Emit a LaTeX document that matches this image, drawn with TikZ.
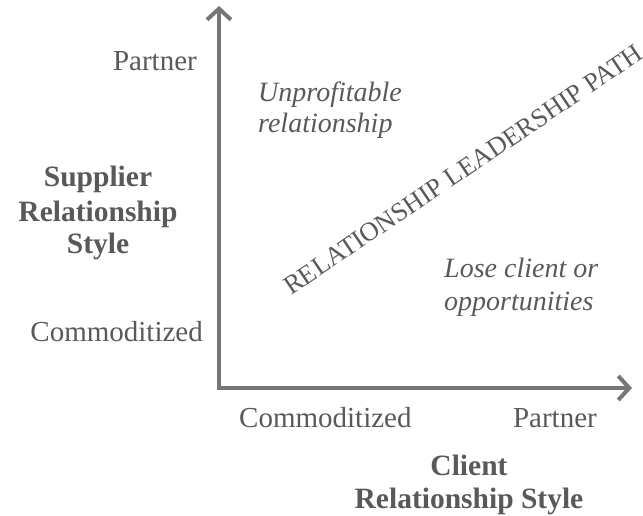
\documentclass[tikz,border=0pt]{standalone}
\usepackage{fontspec}
\setmainfont{Liberation Serif}
\usetikzlibrary{arrows.meta}
\definecolor{labelgray}{RGB}{89,89,92}
\definecolor{axisgray}{RGB}{118,118,121}
\tikzset{
  axis/.style={draw=axisgray, line width=4bp, line join=miter,
    {Straight Barb[length=11bp,width=24bp]}-{Straight Barb[length=11bp,width=24bp]}},
  lbl/.style={text=labelgray, inner sep=0pt, font=\fontsize{29bp}{33bp}\selectfont},
  note/.style={text=labelgray, inner sep=0pt, font=\fontsize{28bp}{33bp}\selectfont\itshape},
  title/.style={text=labelgray, inner sep=0pt, font=\fontsize{29.5bp}{33bp}\selectfont\bfseries},
  path label/.style={text=labelgray, inner sep=0pt, font=\fontsize{26.5bp}{30bp}\selectfont}
}
\begin{document}
\begin{tikzpicture}[x=1bp,y=-1bp]
  \useasboundingbox (0,0) rectangle (643,516);

  % axes
  \coordinate (ytip) at (219,6);
  \coordinate (origin) at (219,388);
  \coordinate (xtip) at (632,388);
  \draw[axis] (ytip) -- (origin) -- (xtip);

  % vertical axis
  \node[lbl, anchor=base east] (ypartner) at (197,71) {Partner};
  \node[lbl, anchor=base east] (ycommod) at (203,341) {Commoditized};
  \node[title, anchor=base] (ytitleA) at (98,187) {Supplier};
  \node[title, anchor=base] (ytitleB) at (98,222) {Relationship};
  \node[title, anchor=base] (ytitleC) at (98,254) {Style};

  % horizontal axis
  \node[lbl, anchor=base west] (xcommod) at (239,427) {Commoditized};
  \node[lbl, anchor=base east] (xpartner) at (597,427) {Partner};
  \node[title, anchor=base] (xtitleA) at (469,475) {Client};
  \node[title, anchor=base] (xtitleB) at (469,508) {Relationship Style};

  % quadrant notes
  \node[note, anchor=base west] (upA) at (258,102) {Unprofitable};
  \node[note, anchor=base west] (upB) at (258,133) {relationship};
  \node[note, anchor=base west] (loA) at (444,277) {Lose client or};
  \node[note, anchor=base west] (loB) at (444,310) {opportunities};

  % diagonal path
  \node[path label, anchor=base west, rotate=34] (path) at (291,296)
    {RELATIONSHIP LEADERSHIP PATH};
\end{tikzpicture}
\end{document}
